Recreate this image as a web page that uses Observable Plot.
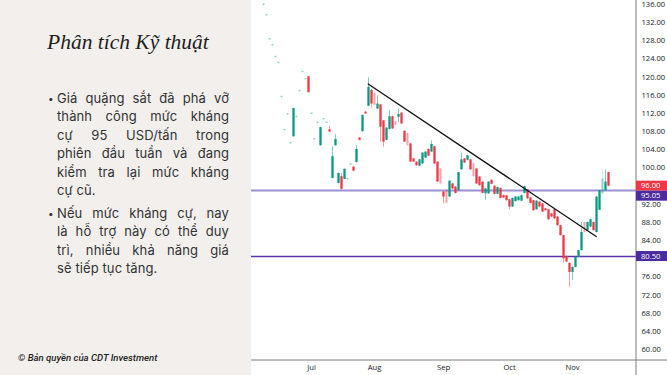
<!DOCTYPE html>
<html><head><meta charset="utf-8">
<script src="https://cdn.jsdelivr.net/npm/d3@7"></script>
<script src="https://cdn.jsdelivr.net/npm/@observablehq/plot@0.6"></script>
<style>
html,body{margin:0;padding:0;}
body{width:667px;height:375px;overflow:hidden;display:flex;background:#fff;}
#left{width:251px;height:375px;background:#f2efed;position:relative;flex:none;}
#title{position:absolute;left:47px;top:30px;font-family:"Liberation Serif",serif;font-style:italic;font-size:21.5px;color:#1e1e1e;white-space:nowrap;}
.para{position:absolute;left:57px;width:172px;font-family:Inter,sans-serif;font-size:13px;letter-spacing:0.1px;line-height:18.4px;color:#333;}
.para div{text-align:justify;text-align-last:justify;white-space:nowrap;}
.para div.last{text-align-last:left;}
.bul{position:absolute;left:-9px;top:0;font-size:10px;}
#copy{position:absolute;left:18px;top:352px;font-family:Roboto,sans-serif;font-style:italic;font-weight:500;font-size:9.6px;color:#222;white-space:nowrap;}
#chart{width:416px;height:375px;flex:none;}
</style></head>
<body>
<div id="left">
  <div id="title">Phân tích Kỹ thuật</div>
  <div class="para" style="top:89px"><span class="bul">•</span>
    <div>Giá quặng sắt đã phá vỡ</div>
    <div>thành công mức kháng</div>
    <div>cự 95 USD/tấn trong</div>
    <div>phiên đầu tuần và đang</div>
    <div>kiểm tra lại mức kháng</div>
    <div class="last">cự cũ.</div>
  </div>
  <div class="para" style="top:204px"><span class="bul">•</span>
    <div>Nếu mức kháng cự, nay</div>
    <div>là hỗ trợ này có thể duy</div>
    <div>trì, nhiều khả năng giá</div>
    <div class="last">sẽ tiếp tục tăng.</div>
  </div>
  <div id="copy">© Bản quyền của CDT Investment</div>
</div>
<div id="chart"></div>
<script>
// Trading-day index (0 = 1 Jul), open, high, low, close
const juneCandles = [
  [-16,135.8,136.1,135.8,136.1],[-15,133.5,133.8,133.5,133.8],[-14,128.2,128.5,128.2,128.5],
  [-13,126.9,127.2,126.9,127.2],[-12,124.3,124.6,124.3,124.6],[-11,123.0,123.3,123.0,123.3],
  [-10,115.5,115.8,115.5,115.8],[-9,108.2,108.5,108.2,108.5],[-8,111.7,112.0,111.7,112.0],
  [-7,105.3,105.6,105.3,105.6],[-6,106.9,113.2,106.8,113.1],[-5,111.1,111.4,111.1,111.4],
  [-4,116.8,117.1,116.8,117.1],[-3,121.0,121.3,121.0,121.3],[-2,119.4,119.7,119.4,119.7],
  [-1,120.1,120.2,116.5,116.6]
];
const julyCandles = [
  [0,111.8,112.1,111.8,112.1],[1,106.2,106.5,106.2,106.5],[2,109.8,110.1,109.8,110.1],
  [3,104.9,109.0,104.8,108.9],[4,110.6,110.9,110.6,110.9],[5,109.8,110.1,109.8,110.1],
  [6,108.4,109.2,107.9,107.9],[7,97.7,104.7,97.6,102.5],[8,104.9,107.3,104.8,106.3],
  [9,96.6,98.9,96.5,98.8],[10,98.1,98.8,95.2,95.3],[11,97.5,99.8,97.4,99.7],
  [12,97.4,97.7,97.4,97.7],[13,100.6,100.9,100.6,100.9],[14,100.2,100.3,99.2,99.3],
  [15,101.2,104.9,101.1,104.1],[16,106.6,106.7,106.0,106.1],[17,108.0,111.7,107.9,111.6],
  [18,112.3,112.4,111.9,111.9],[19,113.6,119.9,113.5,117.8],[20,117.1,117.3,113.2,114.1]
];
const augCandles = [
  [21,116.4,116.6,113.7,113.8],[22,113.0,115.9,112.9,114.1],[23,113.9,114.0,105.7,109.0],
  [24,110.4,110.5,104.6,105.7],[25,106.1,108.9,106.0,108.8],[26,108.5,112.7,108.4,111.3],
  [27,111.3,111.4,108.5,108.6],[28,110.2,110.4,109.3,109.4],[29,111.2,113.0,110.0,111.8],
  [30,112.1,112.2,109.6,109.7],[31,108.1,108.2,105.6,105.7],[32,107.6,107.7,104.8,104.9],
  [33,105.3,105.4,101.2,101.3],[34,102.0,102.1,101.2,101.3],[35,101.3,101.4,100.4,100.5],
  [36,100.4,101.9,100.3,101.8],[37,100.9,103.4,100.8,103.3],[38,102.2,103.6,102.1,103.5],
  [39,104.1,104.2,102.5,102.6],[40,103.5,106.0,103.4,105.2],[41,104.7,104.8,100.8,100.9],
  [42,101.3,101.4,96.8,96.9],[43,99.8,99.9,96.4,96.5]
];
const sepCandles = [
  [44,94.7,94.8,92.1,93.6],[45,95.0,95.1,92.2,92.2],[46,93.6,97.2,93.5,97.1],
  [47,96.5,96.6,95.3,95.4],[48,95.8,95.9,94.3,94.4],[49,95.0,99.1,94.9,99.0],
  [50,99.6,103.3,99.5,101.8],[51,102.0,102.1,101.0,101.1],[52,101.7,102.8,101.6,102.7],
  [53,101.8,101.9,99.5,99.6],[54,100.9,101.0,98.0,98.1],[55,99.8,99.9,96.4,96.5],
  [56,98.0,98.1,96.0,96.1],[57,96.9,97.0,94.3,94.4],[58,94.3,95.5,92.8,95.4],
  [59,94.3,97.0,94.2,96.9],[60,97.3,97.4,96.3,96.4],[61,96.0,96.1,94.1,94.2],
  [62,94.2,95.8,94.1,95.7],[63,95.5,95.6,93.2,93.3],[64,93.9,94.0,93.3,93.4],
  [65,93.9,94.0,92.7,92.8]
];
const octCandles = [
  [66,93.0,93.1,90.8,91.4],[67,91.4,93.4,91.3,93.3],[68,92.6,93.7,92.5,93.6],
  [69,92.8,93.7,92.7,93.6],[70,92.7,94.0,92.6,93.9],[71,94.4,96.0,94.3,95.9],
  [72,95.2,95.3,93.1,93.2],[73,93.4,93.5,92.1,92.2],[74,92.8,92.9,90.5,90.6],
  [75,90.8,92.8,90.7,92.7],[76,92.5,92.6,91.3,91.4],[77,92.1,92.2,90.2,90.3],
  [78,91.0,91.1,90.5,90.6],[79,90.8,90.9,88.5,88.6],[80,89.9,90.0,89.1,89.2],
  [81,90.8,90.9,88.7,88.8],[82,89.2,89.3,87.2,87.3],[83,87.3,87.4,85.0,85.1],
  [84,85.1,85.2,79.0,80.0],[85,80.5,80.6,79.2,79.3],[86,79.0,79.1,73.7,77.0]
];
const novCandles = [
  [87,77.0,78.2,75.2,78.1],[88,78.1,80.4,78.0,80.3],[89,80.3,81.9,80.2,81.8],
  [90,81.8,88.0,81.7,85.8],[91,88.0,88.1,85.7,85.8],[92,86.2,88.1,86.1,88.0],
  [93,87.0,88.7,86.9,88.6],[94,88.0,88.1,86.1,86.2],[95,85.8,93.7,85.7,93.6],
  [96,90.7,95.1,90.6,95.0],[97,94.3,99.6,94.2,97.6],[98,95.0,99.6,94.9,96.9],
  [99,99.0,99.1,95.9,96.0]
];
// thin / low-volume sessions drawn faded
const faintDays = [-16,-15,-14,-13,-12,-11,-10,-9,-8,-7,-5,-4,-3,-2,0,1,2,4,5,12,13,21,28,32,43,45,54,91,97];

const levels = [95.05, 80.50];
const lastPrice = 96.00;
const trendPoints = [[18.9, 118.5], [94.9, 84.9]];
const monthTickDays = [0, 21, 44, 66, 87];
const monthNames = ["Jul", "Aug", "Sep", "Oct", "Nov"];
// 80 and 96 sit under the price tags in the reference
const yTicks = [60,64,68,72,76,84,88,92,100,104,108,112,116,120,124,128,132,136];

const UP = "#089981", DOWN = "#f23645";
const candles = [...juneCandles, ...julyCandles, ...augCandles, ...sepCandles, ...octCandles, ...novCandles]
  .map(([i,o,h,l,c]) => ({i,o,h,l,c, faint: faintDays.includes(i)}));
const col = d => d.c >= d.o ? UP : DOWN;
const op = d => d.faint ? 0.35 : 1;

const W = 416, H = 375, MR = 31, MB = 15;
const plot = Plot.plot({
  width: W, height: H,
  marginLeft: 0, marginRight: MR, marginTop: 0, marginBottom: MB,
  style: {background: "#fff", fontFamily: "'Open Sans', sans-serif", fontSize: "7.6px", color: "#131722"},
  x: {type: "linear", domain: [-20, 108.33]},
  y: {domain: [57.6, 136.9]},
  marks: [
    Plot.ruleY([levels[0]], {stroke: "#9d90d5", strokeWidth: 2.2}),
    Plot.ruleY([levels[1]], {stroke: "#5a34ad", strokeWidth: 1.5}),
    Plot.ruleX(candles, {x: "i", y1: "l", y2: "h", stroke: col, strokeOpacity: d => op(d) * 0.55, strokeWidth: 0.9}),
    Plot.ruleX(candles, {x: "i", y1: "o", y2: "c", stroke: col, strokeOpacity: op, strokeWidth: 2.3}),
    Plot.line(trendPoints, {x: d => d[0], y: d => d[1], stroke: "#111", strokeWidth: 1.3}),
    Plot.axisY({anchor: "right", ticks: yTicks, tickFormat: d3.format(".2f"), tickSize: 0, tickPadding: 5, label: null}),
    Plot.axisX({anchor: "bottom", ticks: monthTickDays, tickFormat: d => monthNames[monthTickDays.indexOf(d)], tickSize: 0, tickPadding: 4, label: null})
  ]
});

const svg = d3.select(plot);
const ys = plot.scale("y");
// axis frame lines
svg.append("line").attr("x1", W - MR).attr("x2", W - MR).attr("y1", 0).attr("y2", H).attr("stroke", "#7a7a7a").attr("stroke-width", 1);
svg.append("line").attr("x1", 0).attr("x2", W).attr("y1", H - MB).attr("y2", H - MB).attr("stroke", "#7a7a7a").attr("stroke-width", 1);
// price tags on axis
const tags = [[lastPrice, DOWN], [levels[0], "#4a2ba0"], [levels[1], "#4a2ba0"]];
const boxH = 10;
let prev = -Infinity;
const tagLayer = svg.append("g").attr("text-anchor", "start");
for (const [v, fill] of tags) {
  const cy = Math.max(ys.apply(v), prev + boxH);
  prev = cy;
  tagLayer.append("rect").attr("x", W - MR).attr("y", cy - boxH / 2).attr("width", MR).attr("height", boxH).attr("fill", fill);
  tagLayer.append("text").attr("x", W - MR + 5).attr("y", cy).attr("dy", "0.34em").attr("fill", "#fff")
    .attr("text-anchor", "start").attr("font-size", "7.6px").attr("font-family", "'Open Sans', sans-serif").text(d3.format(".2f")(v));
}
document.getElementById("chart").appendChild(plot);
</script>
</body></html>
